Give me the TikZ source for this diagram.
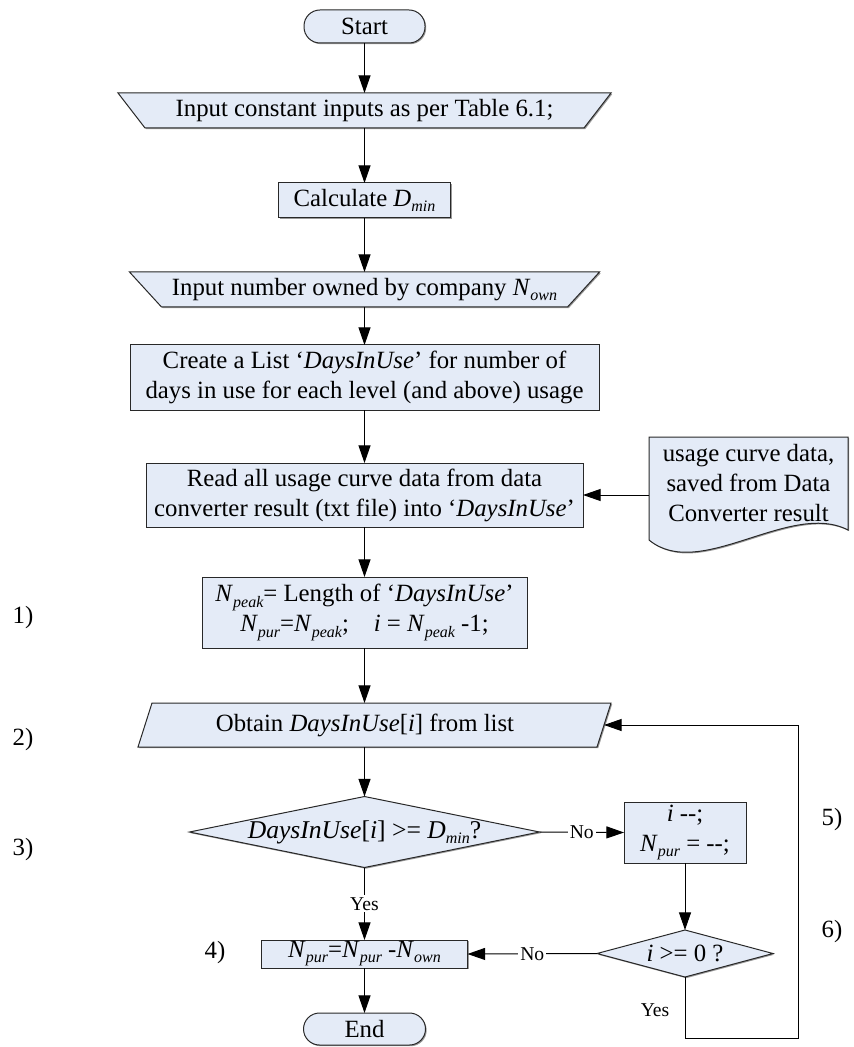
\documentclass[tikz,border=0pt]{standalone}
\usepackage{fontspec}
\setmainfont{Liberation Serif}
\usetikzlibrary{arrows.meta,backgrounds,shadows}
\definecolor{boxfill}{RGB}{228,235,247}
\definecolor{edgecol}{RGB}{40,40,40}
\newcommand{\lsub}[1]{\raisebox{-0.45ex}{\fontsize{8}{8}\selectfont\itshape #1}}
\begin{document}
\begin{tikzpicture}[x=0.5pt,y=-0.5pt,
  every node/.style={inner sep=0pt, outer sep=0pt},
  txt/.style={font=\fontsize{12.4}{15}\selectfont, align=center},
  shadowed/.style={drop shadow={shadow xshift=0.6pt, shadow yshift=-0.6pt, fill=black!40, opacity=1}},
  proc/.style={txt, draw=edgecol, fill=boxfill, line width=0.5pt, rectangle, shadowed},
  term/.style={proc, rounded corners=8pt},
  holder/.style={txt},
  shp/.style={draw=edgecol, fill=boxfill, line width=0.5pt, shadowed},
  arr/.style={draw=black, line width=0.5pt, -{Triangle[length=8.8pt,width=6pt]}},
  lbl/.style={font=\fontsize{9.8}{11}\selectfont, fill=white, inner sep=1pt},
  tagl/.style={font=\fontsize{12.4}{15}\selectfont}
]
\useasboundingbox (0,0) rectangle (854,1047);

% nodes
\node[term, minimum width=60.5pt, minimum height=16.5pt] (start) at (364.5,26.5) {Start};
\node[holder, minimum width=219.5pt, minimum height=17.5pt] (in1) at (364.5,110.5) {Input constant inputs as per Table 6.1;};
\node[proc, minimum width=86pt, minimum height=17.5pt] (calc) at (364.5,200.5) {Calculate \textit{D}\lsub{min}};
\node[holder, minimum width=203pt, minimum height=17.5pt] (in2) at (364.5,289.5) {Input number owned by company \textit{N}\lsub{own}};
\node[proc, minimum width=234.5pt, minimum height=32.5pt] (create) at (364.5,377.5) {Create a List ‘\textit{DaysInUse}’ for number of\\days in use for each level (and above) usage};
\node[proc, minimum width=218.5pt, minimum height=32pt] (read) at (364.5,495) {Read all usage curve data from data\\converter result (txt file) into ‘\textit{DaysInUse}’};
\node[proc, minimum width=162.5pt, minimum height=35.5pt] (npeak) at (364.5,612.5) {\textit{N}\lsub{peak}= Length of ‘\textit{DaysInUse}’\\\textit{N}\lsub{pur}=\textit{N}\lsub{peak};\quad \textit{i} = \textit{N}\lsub{peak} -1;};
\node[holder, minimum width=229.5pt, minimum height=22pt] (obtain) at (374.5,725) {Obtain \textit{DaysInUse}[\textit{i}] from list\hspace*{9.5pt}};
\node[holder, font=\fontsize{12.8}{15}\selectfont, minimum width=175pt, minimum height=35.5pt] (d1) at (364.5,832) {\textit{DaysInUse}[\textit{i}] >= \textit{D}\lsub{min}?};
\node[proc, minimum width=61pt, minimum height=30.5pt] (dec) at (685,832.5) {\textit{i} -{}-;\\\textit{N}\lsub{pur} = -{}-;};
\node[holder, minimum width=88pt, minimum height=23.5pt] (d2) at (685,953.5) {\textit{i} >= 0 ?};
\node[proc, minimum width=103pt, minimum height=14pt] (npur) at (364.5,954) {\textit{N}\lsub{pur}=\textit{N}\lsub{pur} -\textit{N}\lsub{own}};
\node[term, minimum width=61pt, minimum height=16pt] (end) at (364.5,1029) {End};
\node[holder, minimum width=99.5pt, minimum height=46.5pt, anchor=north] (doc) at (748.5,437) {usage curve data,\\saved from Data\\Converter result};

% step labels
\node[tagl] (t1) at (23,618) {1)};
\node[tagl] (t2) at (23,740) {2)};
\node[tagl] (t3) at (23,850) {3)};
\node[tagl] (t4) at (215,953) {4)};
\node[tagl] (t5) at (832,820) {5)};
\node[tagl] (t6) at (832,932) {6)};

% custom shapes behind text
\begin{scope}[on background layer]
\path[shp] ([xshift=-13.5pt]in1.north west) -- ([xshift=13.5pt]in1.north east) -- (in1.south east) -- (in1.south west) -- cycle;
\path[shp] ([xshift=-16pt]in2.north west) -- ([xshift=16pt]in2.north east) -- (in2.south east) -- (in2.south west) -- cycle;
\path[shp] ([xshift=3.5pt]obtain.north west) -- ([xshift=3.5pt]obtain.north east) -- ([xshift=-3.5pt]obtain.south east) -- ([xshift=-3.5pt]obtain.south west) -- cycle;
\path[shp] (d1.west) -- (d1.north) -- (d1.east) -- (d1.south) -- cycle;
\path[shp] (d2.west) -- (d2.north) -- (d2.east) -- (d2.south) -- cycle;
\path[shp] (doc.north west) -- (doc.north east) -- (doc.south east) .. controls (790,500) and (700,582) .. ([yshift=-5pt]doc.south west) -- cycle;
\end{scope}

% connectors
\draw[arr] (start) -- (in1);
\draw[arr] (in1) -- (calc);
\draw[arr] (calc) -- (in2);
\draw[arr] (in2) -- (create);
\draw[arr] (create) -- (read);
\draw[arr] (read) -- (npeak);
\draw[arr] (npeak.south) -- (npeak.south |- obtain.north);
\draw[arr] (d1.north |- obtain.south) -- (d1.north);
\draw[arr] (d1.east) -- node[lbl] {No} (dec.west);
\draw[arr] (dec) -- (d2);
\draw[arr] (d2.west) -- node[lbl] {No} (npur.east);
\draw[arr] (d1.south) -- node[lbl] {Yes} (npur.north);
\draw[arr] (npur) -- (end);
\coordinate (loopR) at (798,1038);
\draw[arr] (d2.south) |- (loopR) |- (obtain.east);
\node[lbl] (yes2) at (655,1010) {Yes};
\draw[arr] (read.east -| doc.west) -- (read.east);
\end{tikzpicture}
\end{document}
